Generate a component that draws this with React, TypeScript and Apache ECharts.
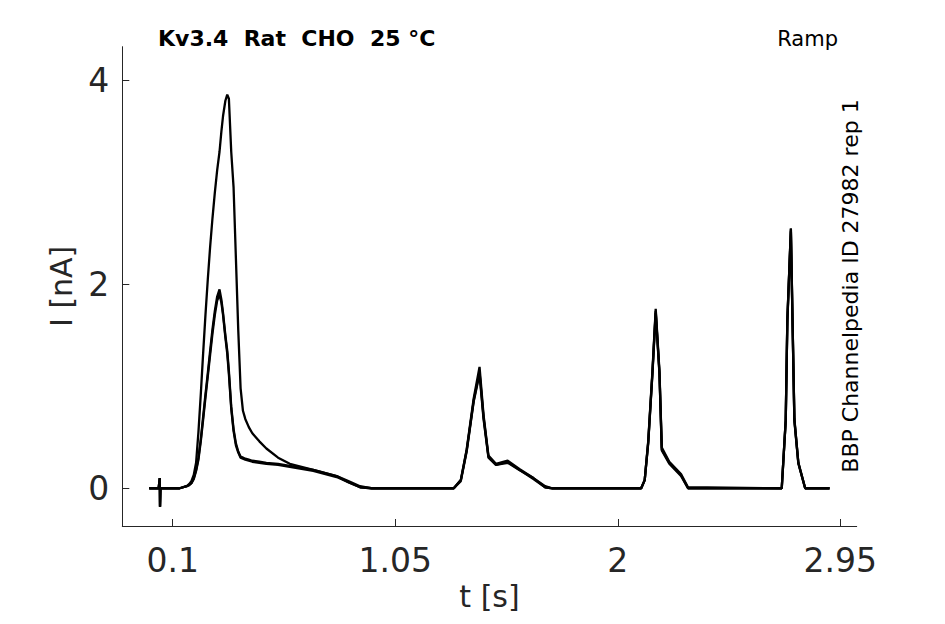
import React, { useEffect, useRef } from "react";
import * as echarts from "echarts";

// time points [s]
const timeS = [
  0.0, 0.04, 0.045, 0.046, 0.048, 0.1,
  0.13, 0.16, 0.17, 0.18, 0.19, 0.2, 0.21, 0.22, 0.23, 0.24, 0.25, 0.26, 0.27, 0.28, 0.29, 0.3,
  0.308, 0.315, 0.325, 0.333, 0.34, 0.35, 0.36, 0.37, 0.38, 0.39, 0.4, 0.41, 0.425, 0.44,
  0.47, 0.5, 0.55, 0.6, 0.7, 0.8, 0.85, 0.9, 0.95,
  1.3, 1.33, 1.355, 1.385, 1.41, 1.427, 1.448, 1.48, 1.53, 1.58, 1.64, 1.69, 1.72,
  2.1, 2.115, 2.13, 2.148, 2.162, 2.178, 2.188, 2.22, 2.27, 2.3,
  2.7, 2.717, 2.724, 2.739, 2.746, 2.754, 2.771, 2.8, 2.904,
];

// current [nA], sweep with the large first peak
const sweep1 = [
  0, 0, 0.1, -0.18, 0, 0,
  0, 0.02, 0.04, 0.07, 0.13, 0.25, 0.55, 0.92, 1.32, 1.7, 2.05, 2.37, 2.65, 2.9, 3.12, 3.3,
  3.5, 3.65, 3.8, 3.86, 3.82, 3.3, 2.95, 2.25, 1.55, 0.98, 0.76, 0.68, 0.6, 0.54,
  0.46, 0.39, 0.3, 0.24, 0.18, 0.12, 0.06, 0.01, 0,
  0, 0.08, 0.37, 0.86, 1.14, 0.7, 0.31, 0.23, 0.26, 0.18, 0.1, 0.01, 0,
  0, 0.08, 0.45, 1.13, 1.74, 1.13, 0.38, 0.25, 0.13, 0,
  0, 0.67, 1.65, 2.54, 1.65, 0.67, 0.25, 0, 0,
];

const sweep2 = [
  0, 0, 0.1, -0.18, 0, 0,
  0, 0.02, 0.03, 0.05, 0.1, 0.18, 0.3, 0.48, 0.7, 0.92, 1.13, 1.35, 1.56, 1.74, 1.88, 1.95,
  1.85, 1.72, 1.5, 1.35, 1.15, 0.8, 0.58, 0.44, 0.36, 0.31, 0.3, 0.29, 0.28, 0.27,
  0.26, 0.25, 0.24, 0.22, 0.18, 0.12, 0.07, 0.02, 0,
  0, 0.08, 0.38, 0.88, 1.19, 0.72, 0.32, 0.24, 0.27, 0.19, 0.1, 0.02, 0,
  0, 0.08, 0.46, 1.15, 1.76, 1.15, 0.4, 0.26, 0.14, 0.01,
  0, 0.67, 1.66, 2.55, 1.66, 0.68, 0.25, 0, 0,
];

const sweep3 = [
  0, 0, 0.1, -0.18, 0, 0,
  0, 0.02, 0.03, 0.05, 0.09, 0.17, 0.28, 0.46, 0.67, 0.89, 1.1, 1.31, 1.52, 1.7, 1.84, 1.9,
  1.82, 1.7, 1.48, 1.32, 1.12, 0.78, 0.56, 0.42, 0.35, 0.3, 0.29, 0.28, 0.27, 0.26,
  0.25, 0.24, 0.23, 0.21, 0.17, 0.11, 0.06, 0.01, 0,
  0, 0.07, 0.36, 0.85, 1.12, 0.68, 0.3, 0.23, 0.25, 0.18, 0.09, 0.01, 0,
  0, 0.08, 0.44, 1.12, 1.72, 1.12, 0.37, 0.24, 0.12, 0,
  0, 0.66, 1.64, 2.52, 1.64, 0.66, 0.24, 0, 0,
];

const xTicks = [0.1, 1.05, 2, 2.95];
const yTicks = [0, 2, 4];

const titleText = "Kv3.4  Rat  CHO  25 °C";
const protocolText = "Ramp";
const sideText = "BBP Channelpedia ID 27982 rep 1";

const FONT = "DejaVu Sans";
const AX = "#262626";

export default function App() {
  const ref = useRef<HTMLDivElement>(null);

  useEffect(() => {
    document.body.style.margin = "0";
    if (!ref.current) return;
    const chart = echarts.init(ref.current, undefined, { renderer: "svg" });
    const mk = (s: number[]) => timeS.map((t, i) => [t, s[i]]);
    const sweeps = [sweep1, sweep2, sweep3];
    chart.setOption({
      animation: false,
      backgroundColor: "#ffffff",
      grid: { left: 122.3, right: 88.3, top: 46.7, bottom: 98, outerBoundsMode: "none" },
      xAxis: {
        type: "value",
        min: -0.115,
        max: 3.02,
        name: "t [s]",
        nameLocation: "middle",
        nameGap: 55,
        nameTextStyle: { fontFamily: FONT, fontSize: 30, color: AX },
        axisLine: { show: true, onZero: false, lineStyle: { color: AX, width: 1 } },
        axisTick: { show: true, inside: true, length: 7, customValues: xTicks, lineStyle: { color: AX } },
        axisLabel: {
          fontFamily: FONT,
          fontSize: 33,
          color: AX,
          margin: 18,
          customValues: xTicks,
          formatter: (v: number) => String(v),
        },
        splitLine: { show: false },
      },
      yAxis: {
        type: "value",
        min: -0.37,
        max: 4.33,
        name: "I [nA]",
        nameLocation: "middle",
        nameGap: 46,
        nameTextStyle: { fontFamily: FONT, fontSize: 30, color: AX },
        axisLine: { show: true, onZero: false, lineStyle: { color: AX, width: 1 } },
        axisTick: { show: true, inside: true, length: 7, customValues: yTicks, lineStyle: { color: AX } },
        axisLabel: {
          fontFamily: FONT,
          fontSize: 33,
          color: AX,
          margin: 13,
          customValues: yTicks,
          formatter: (v: number) => String(v),
        },
        splitLine: { show: false },
      },
      series: sweeps.map((s, i) => ({
        type: "line",
        name: "sweep " + (i + 1),
        data: mk(s),
        showSymbol: false,
        symbol: "none",
        lineStyle: { color: "#000000", width: 2.3 },
        z: 2 + i,
      })),
      graphic: [
        {
          type: "text",
          left: 158,
          top: 27,
          style: { text: titleText, fontFamily: FONT, fontWeight: "bold", fontSize: 22, fill: "#000" },
        },
        {
          type: "text",
          x: 838,
          y: 39,
          style: {
            text: protocolText,
            fontFamily: FONT,
            fontSize: 21,
            fill: "#000",
            align: "right",
            verticalAlign: "middle",
          },
        },
        {
          type: "text",
          x: 850,
          y: 286,
          rotation: Math.PI / 2,
          style: {
            text: sideText,
            fontFamily: FONT,
            fontSize: 22,
            fill: "#000",
            align: "center",
            verticalAlign: "middle",
          },
        },
      ],
    });
    return () => chart.dispose();
  }, []);

  return <div ref={ref} style={{ width: 945, height: 624 }} />;
}
